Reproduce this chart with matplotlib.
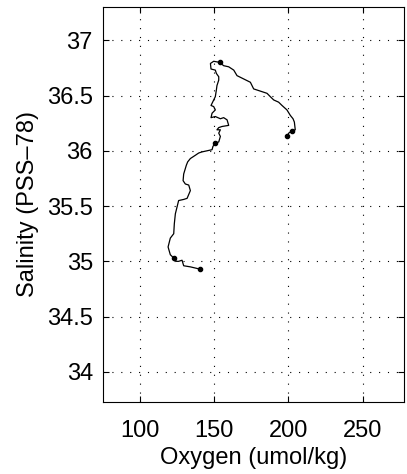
import matplotlib
matplotlib.use('Agg')
import matplotlib.pyplot as plt

plt.rcParams['font.family'] = ['Liberation Sans', 'DejaVu Sans']

# oxygen (umol/kg) / salinity (PSS-78) profile
oxygen = [140.4, 134.1, 129.6, 128.5, 126.2, 124.7, 122.9, 120.6, 119.1, 120.6,
          122.9, 123.3, 124.0, 125.1, 126.2, 129.6, 131.9, 134.1, 133.0, 130.7,
          129.2, 129.6, 131.4, 132.3, 134.1, 137.5, 139.7, 141.9, 145.3, 148.7,
          149.3, 150.9, 153.2, 154.3, 153.2, 154.3, 152.0, 153.2, 155.4, 159.9,
          158.8, 156.5, 154.3, 150.9, 148.0, 148.7, 150.9, 149.8, 148.0, 149.8,
          150.9, 151.6, 152.0, 153.2, 153.2, 151.6, 150.9, 148.0, 147.6, 149.8,
          153.8, 156.5, 159.9, 163.3, 165.5, 170.0, 174.5, 176.7, 181.2, 185.7,
          187.9, 190.2, 193.5, 195.8, 199.1, 201.4, 203.2, 204.1, 204.7, 202.5,
          201.4, 200.3, 199.1]
salinity = [34.93, 34.95, 34.96, 35.01, 35.00, 35.00, 35.03, 35.06, 35.13, 35.21,
            35.25, 35.34, 35.43, 35.49, 35.55, 35.56, 35.57, 35.64, 35.69, 35.70,
            35.73, 35.79, 35.87, 35.90, 35.93, 35.96, 35.98, 35.99, 36.00, 36.01,
            36.04, 36.07, 36.08, 36.13, 36.16, 36.19, 36.19, 36.21, 36.22, 36.23,
            36.28, 36.30, 36.29, 36.31, 36.30, 36.34, 36.37, 36.40, 36.41, 36.46,
            36.49, 36.55, 36.59, 36.64, 36.67, 36.70, 36.73, 36.74, 36.79, 36.81,
            36.80, 36.77, 36.76, 36.73, 36.68, 36.65, 36.62, 36.56, 36.54, 36.52,
            36.49, 36.46, 36.44, 36.41, 36.37, 36.32, 36.29, 36.26, 36.19, 36.18,
            36.17, 36.16, 36.13]
# marked samples
dot_oxy = [140.4, 122.9, 150.9, 153.8, 202.5, 199.1]
dot_sal = [34.93, 35.03, 36.07, 36.80, 36.18, 36.13]

fig = plt.figure(figsize=(4.07, 4.74), dpi=100)
ax = fig.add_axes([0.252, 0.1525, 0.741, 0.8325])

ax.plot(oxygen, salinity, color='k', lw=0.9)
ax.plot(dot_oxy, dot_sal, 'k.', ms=6)

ax.set_xlim(75, 278)
ax.set_ylim(33.73, 37.3)
ax.set_xticks([100, 150, 200, 250])
ax.set_yticks([34, 34.5, 35, 35.5, 36, 36.5, 37])
ax.set_yticklabels(['34', '34.5', '35', '35.5', '36', '36.5', '37'])
ax.grid(True, color='k', linestyle=(0, (1, 7)), lw=0.8)
ax.tick_params(direction='in', top=True, right=True, labelsize=17, length=4)
ax.tick_params(axis='x', pad=13)
ax.tick_params(axis='y', pad=7)
for s in ax.spines.values():
    s.set_linewidth(0.8)

ax.set_xlabel('Oxygen (umol/kg)', fontsize=17, labelpad=4)
ax.set_ylabel('Salinity (PSS\u201378)', fontsize=17, labelpad=6)

fig.savefig('out.png', dpi=100)
